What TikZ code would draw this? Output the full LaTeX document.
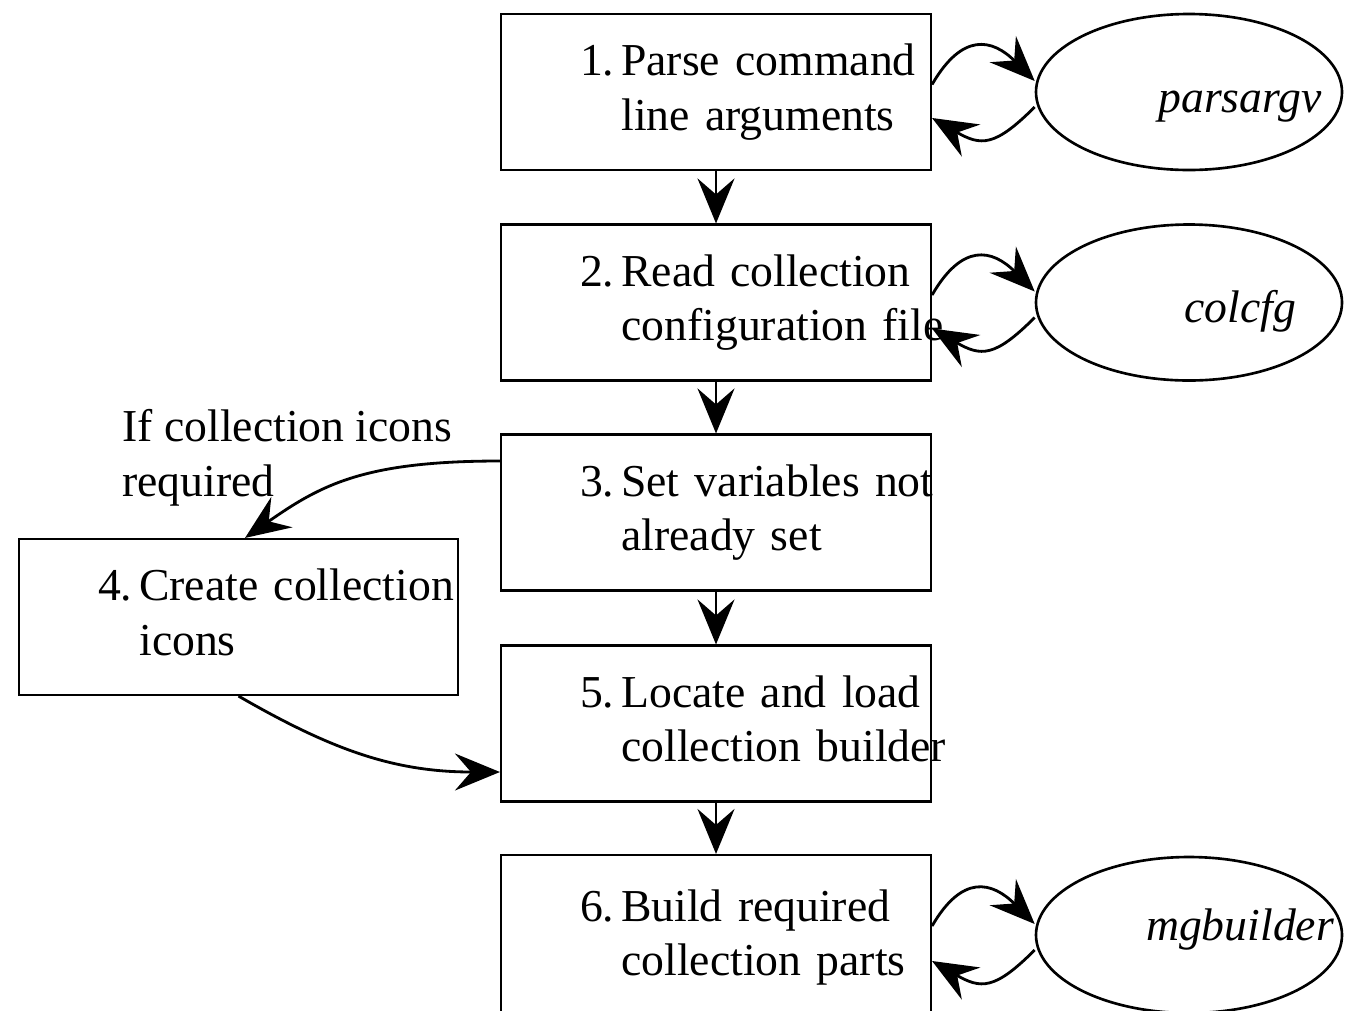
\documentclass[tikz,border=0pt]{standalone}
\usepackage{fontspec}
\setmainfont{Liberation Serif}
\usetikzlibrary{arrows.meta,shapes.geometric}

\tikzset{
  stepbox/.style={draw, line width=1.2pt, minimum height=3.12cm, text width=8.6cm,
    inner xsep=0pt, align=left, font=\fontsize{26}{31}\selectfont},
  procoval/.style={draw, ellipse, line width=1.5pt, minimum width=6.12cm,
    minimum height=3.12cm, inner sep=0pt},
  procname/.style={anchor=base, inner sep=0pt, font=\fontsize{26}{31}\selectfont\itshape},
  flow/.style={line width=1.6pt, -{Stealth[length=0.9cm,width=0.74cm,inset=0.32cm]}},
}
\newcommand{\stepitem}[3]{\hspace*{1.58cm}\begin{tabular}{@{}l@{\hspace{4pt}}l@{}}#1.&#2\\&#3\end{tabular}}

\begin{document}
\begin{tikzpicture}
    \useasboundingbox (0,0) rectangle (26.94,-20.2);
    % steps
    \node[stepbox] (b1) at (14.32,-1.84) {\stepitem{1}{Parse command}{line arguments}};
    \node[stepbox] (b2) at (14.32,-6.05) {\stepitem{2}{Read collection}{configuration file}};
    \node[stepbox] (b3) at (14.32,-10.25) {\stepitem{3}{Set variables not}{already set}};
    \node[stepbox,text width=8.78cm] (b4) at (4.77,-12.34) {\stepitem{4}{Create collection}{icons}};
    \node[stepbox] (b5) at (14.32,-14.47) {\stepitem{5}{Locate and load}{collection builder}};
    \node[stepbox,minimum height=3.3cm] (b6) at (14.32,-18.75) {\stepitem{6}{Build required}{collection parts}};
    % programs
    \node[procoval] (e1) at (23.78,-1.84) {};
    \node[procoval] (e2) at (23.78,-6.05) {};
    \node[procoval] (e3) at (23.78,-18.7) {};
    \node[procname] (n1) at (24.8,-2.24) {parsargv};
    \node[procname] (n2) at (24.8,-6.44) {colcfg};
    \node[procname] (n3) at (24.8,-18.8) {mgbuilder};
    \node[anchor=west, align=left, inner sep=0pt, font=\fontsize{26}{31}\selectfont] (cond) at (2.44,-9.16) {If collection icons\\required};
    % main flow
    \draw[flow] (b1) -- (b2);
    \draw[flow] (b2) -- (b3);
    \draw[flow] (b3) -- (b5);
    \draw[flow] (b5) -- (b6);
    \draw[flow] ([yshift=1.03cm]b3.west) to[out=180,in=35,out looseness=1.3,in looseness=0.9] ([xshift=0.13cm]b4.north);
    \draw[flow] (b4.south) to[out=-30,in=180] ([yshift=-0.97cm]b5.west);
    % calls
    \draw[flow] ([yshift=0.15cm]b1.east) to[out=60,in=135,looseness=1.5] ([yshift=0.22cm]e1.west);
    \draw[flow] ([yshift=-0.3cm]e1.west) to[out=-135,in=-30,looseness=1.4] ([yshift=-0.52cm]b1.east);
    \draw[flow] ([yshift=0.15cm]b2.east) to[out=60,in=135,looseness=1.5] ([yshift=0.22cm]e2.west);
    \draw[flow] ([yshift=-0.3cm]e2.west) to[out=-135,in=-30,looseness=1.4] ([yshift=-0.52cm]b2.east);
    \draw[flow] ([yshift=0.18cm]b6.east |- e3.west) to[out=60,in=135,looseness=1.5] ([yshift=0.22cm]e3.west);
    \draw[flow] ([yshift=-0.3cm]e3.west) to[out=-135,in=-30,looseness=1.4] ([yshift=-0.52cm]b6.east |- e3.west);
\end{tikzpicture}
\end{document}
